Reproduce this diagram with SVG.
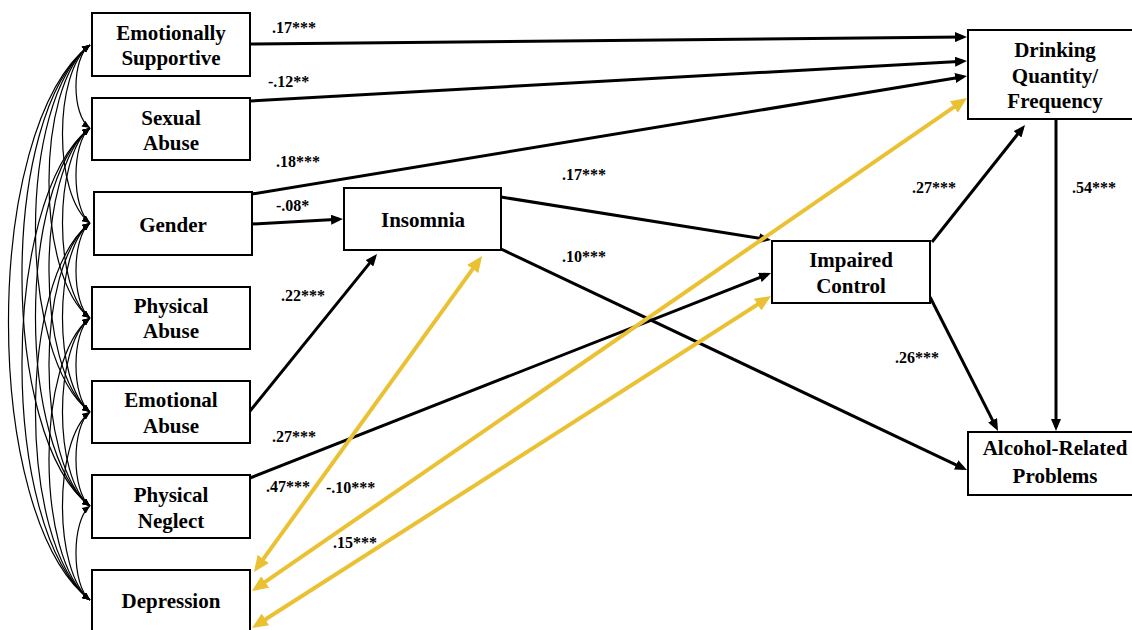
<svg xmlns="http://www.w3.org/2000/svg" width="1132" height="630" viewBox="0 0 1132 630">
<style>
.box{fill:#fff;stroke:#000;stroke-width:2}
.t{font-family:"Liberation Serif","Times New Roman",serif;font-weight:bold;font-size:21px;text-anchor:middle;fill:#000}
.l{font-family:"Liberation Serif","Times New Roman",serif;font-weight:bold;font-size:16px;fill:#000}
.a{fill:none;stroke:#000;stroke-width:3;marker-end:url(#ah)}
.y{fill:none;stroke:#EBC134;stroke-width:4;marker-start:url(#yh);marker-end:url(#yh)}
.c{fill:none;stroke:#000;stroke-width:1.2;marker-start:url(#ch);marker-end:url(#ch)}
</style>
<defs>
<marker id="ah" markerUnits="userSpaceOnUse" markerWidth="12" markerHeight="10" refX="8" refY="5" orient="auto"><path d="M0,0 L12,5 L0,10 z" fill="#000"/></marker>
<marker id="yh" markerUnits="userSpaceOnUse" markerWidth="16" markerHeight="14" refX="11" refY="7" orient="auto-start-reverse"><path d="M0,0 L16,7 L0,14 z" fill="#EBC134"/></marker>
<marker id="ch" markerUnits="userSpaceOnUse" markerWidth="8" markerHeight="7" refX="8" refY="3.5" orient="auto-start-reverse"><path d="M0,0 L8,3.5 L0,7 z" fill="#000"/></marker>
</defs>
<rect width="1132" height="630" fill="#fff"/>
<g id="connectors">
<g id="correlations">
<path class="c" d="M90,45 C71.3,57.5 71.3,115.5 90,128"/>
<path class="c" d="M90,128 C71.3,142.3 71.3,208.7 90,223"/>
<path class="c" d="M90,223 C71.3,237.3 71.3,303.7 90,318"/>
<path class="c" d="M90,318 C71.3,332.1 71.3,397.9 90,412"/>
<path class="c" d="M90,412 C71.3,426.1 71.3,491.9 90,506"/>
<path class="c" d="M90,506 C71.3,520.1 71.3,585.9 90,600"/>
<path class="c" d="M90,45 C53.3,71.7 53.3,196.3 90,223"/>
<path class="c" d="M90,128 C53.3,156.5 53.3,289.5 90,318"/>
<path class="c" d="M90,223 C53.3,251.4 53.3,383.6 90,412"/>
<path class="c" d="M90,318 C53.3,346.2 53.3,477.8 90,506"/>
<path class="c" d="M90,412 C53.3,440.2 53.3,571.8 90,600"/>
<path class="c" d="M90,45 C35.3,86 35.3,277 90,318"/>
<path class="c" d="M90,128 C35.3,170.6 35.3,369.4 90,412"/>
<path class="c" d="M90,223 C35.3,265.5 35.3,463.5 90,506"/>
<path class="c" d="M90,318 C35.3,360.3 35.3,557.7 90,600"/>
<path class="c" d="M90,45 C17.3,100 17.3,357 90,412"/>
<path class="c" d="M90,128 C17.3,184.7 17.3,449.3 90,506"/>
<path class="c" d="M90,223 C17.3,279.6 17.3,543.4 90,600"/>
<path class="c" d="M90,45 C-0.7,114.2 -0.7,436.8 90,506"/>
<path class="c" d="M90,128 C-0.7,198.8 -0.7,529.2 90,600"/>
<path class="c" d="M90,45 C-18.7,128.3 -18.7,516.7 90,600"/>
</g>
<g id="paths">
<path class="a" d="M250,44 L963,37"/>
<path class="a" d="M250,101 L963,61.2"/>
<path class="a" d="M252,194 L963.1,76.7"/>
<path class="a" d="M252,224 L339,219.2"/>
<path class="a" d="M250,411 L374.5,257.1"/>
<path class="a" d="M501,197 L767,239.4"/>
<path class="a" d="M501,249 L963.4,468.3"/>
<path class="a" d="M250,478 L767.3,274.5"/>
<path class="a" d="M932,242 L1022.5,128.1"/>
<path class="a" d="M930,297 L996.2,427.4"/>
<path class="a" d="M1056,119 L1056,427"/>
</g>
<g id="residual-correlations">
<path class="y" d="M256.9,567.9 L479.1,260.1"/>
<path class="y" d="M256.1,588.2 L962.9,100.8"/>
<path class="y" d="M256.2,625.3 L766.8,298.7"/>
</g>
</g>
<g id="emotionally-supportive"><rect class="box" x="92" y="13" width="158" height="63"/><text class="t" x="171" y="40">Emotionally</text><text class="t" x="171" y="65">Supportive</text></g>
<g id="sexual-abuse"><rect class="box" x="92" y="98" width="158" height="62"/><text class="t" x="171" y="125">Sexual</text><text class="t" x="171" y="150">Abuse</text></g>
<g id="gender"><rect class="box" x="94" y="192" width="158" height="63"/><text class="t" x="173" y="232">Gender</text></g>
<g id="physical-abuse"><rect class="box" x="92" y="287" width="158" height="62"/><text class="t" x="171" y="313">Physical</text><text class="t" x="171" y="338">Abuse</text></g>
<g id="emotional-abuse"><rect class="box" x="92" y="381" width="158" height="62"/><text class="t" x="171" y="407">Emotional</text><text class="t" x="171" y="433">Abuse</text></g>
<g id="physical-neglect"><rect class="box" x="92" y="475" width="158" height="63"/><text class="t" x="171" y="502">Physical</text><text class="t" x="171" y="528">Neglect</text></g>
<g id="depression"><rect class="box" x="92" y="570" width="158" height="70"/><text class="t" x="171" y="608">Depression</text></g>
<g id="insomnia"><rect class="box" x="344" y="188" width="157" height="62"/><text class="t" x="423" y="227">Insomnia</text></g>
<g id="impaired-control"><rect class="box" x="772" y="241" width="158" height="62"/><text class="t" x="851" y="267">Impaired</text><text class="t" x="851" y="293">Control</text></g>
<g id="drinking-quantity-frequency"><rect class="box" x="968" y="30" width="180" height="89"/><text class="t" x="1055" y="57">Drinking</text><text class="t" x="1055" y="83">Quantity/</text><text class="t" x="1055" y="108">Frequency</text></g>
<g id="alcohol-related-problems"><rect class="box" x="968" y="432" width="180" height="63"/><text class="t" x="1055" y="455">Alcohol-Related</text><text class="t" x="1055" y="483">Problems</text></g>
<g id="labels">
<text class="l" x="272" y="33">.17***</text>
<text class="l" x="268" y="87">-.12**</text>
<text class="l" x="276" y="167">.18***</text>
<text class="l" x="276" y="211">-.08*</text>
<text class="l" x="562" y="180">.17***</text>
<text class="l" x="562" y="262">.10***</text>
<text class="l" x="281" y="301">.22***</text>
<text class="l" x="272" y="442">.27***</text>
<text class="l" x="266" y="492">.47***</text>
<text class="l" x="326" y="493">-.10***</text>
<text class="l" x="333" y="548">.15***</text>
<text class="l" x="912" y="193">.27***</text>
<text class="l" x="1072" y="193">.54***</text>
<text class="l" x="895" y="363">.26***</text>
</g>
</svg>
